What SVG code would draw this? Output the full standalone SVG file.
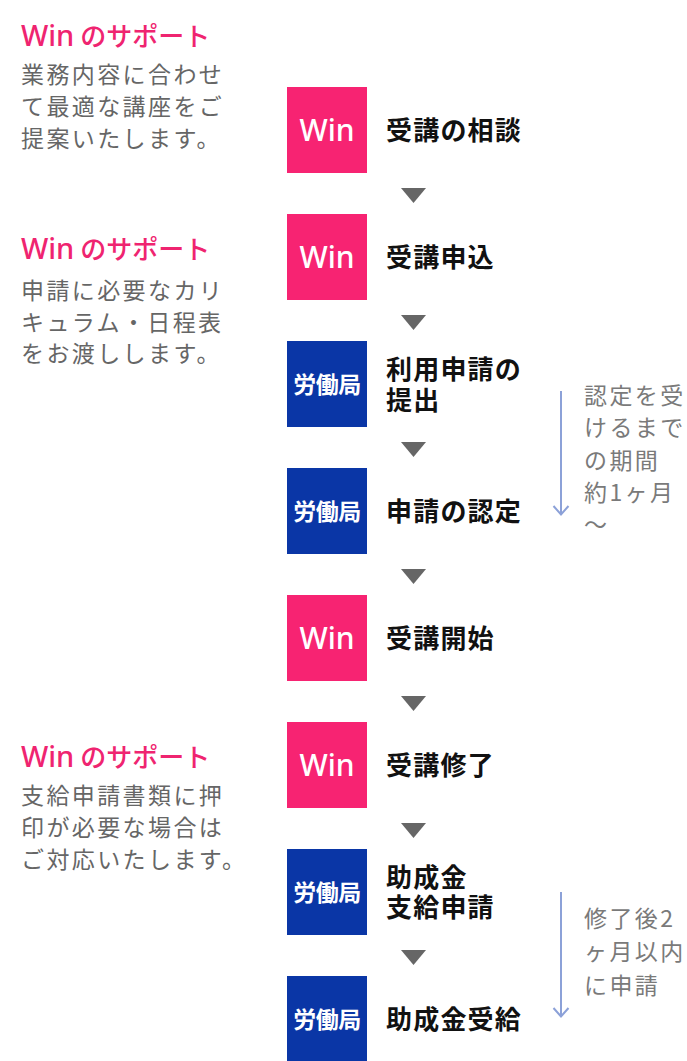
<svg xmlns="http://www.w3.org/2000/svg" width="687" height="1061" viewBox="0 0 687 1061">
<style>
.win{fill:#f72372}
.rou{fill:#0a36a6}
.wt{font-family:"Noto Sans","Noto Sans CJK JP",sans-serif;font-size:30px;font-weight:500;fill:#fff;text-anchor:middle}
.rt{font-family:"Noto Sans CJK JP",sans-serif;font-size:23px;font-weight:bold;fill:#fff;text-anchor:middle;letter-spacing:-0.5px}
.lbl{font-family:"Noto Sans CJK JP",sans-serif;font-size:26px;font-weight:bold;fill:#111;letter-spacing:1.2px}
.hd{font-family:"Noto Sans CJK JP",sans-serif;font-size:26px;font-weight:500;fill:#ef2470}
.hdw{font-family:"Noto Sans",sans-serif;font-size:29px;font-weight:500}
.body{font-family:"Noto Sans CJK JP",sans-serif;font-size:23px;fill:#666;letter-spacing:2.4px}
.note{font-family:"Noto Sans CJK JP",sans-serif;font-size:23px;fill:#7a7a7a;letter-spacing:2.4px}
.tri{fill:#666}
.arr{fill:none;stroke:#8ca1d8;stroke-width:2}
</style>
<rect width="687" height="1061" fill="#fff"/>

<g id="support1">
<text class="hd" x="21" y="46"><tspan class="hdw">Win</tspan> のサポート</text>
<text class="body" x="21" y="82.5">業務内容に合わせ</text>
<text class="body" x="21" y="114.7">て最適な講座をご</text>
<text class="body" x="21" y="147">提案いたします。</text>
</g>
<g id="support2">
<text class="hd" x="21" y="259"><tspan class="hdw">Win</tspan> のサポート</text>
<text class="body" x="21" y="298.7">申請に必要なカリ</text>
<text class="body" x="21" y="330.7">キュラム・日程表</text>
<text class="body" x="21" y="361.7">をお渡しします。</text>
</g>
<g id="support3">
<text class="hd" x="21" y="766.5"><tspan class="hdw">Win</tspan> のサポート</text>
<text class="body" x="21" y="803.7">支給申請書類に押</text>
<text class="body" x="21" y="835.7">印が必要な場合は</text>
<text class="body" x="21" y="867.7">ご対応いたします。</text>
</g>

<g id="step1">
<rect class="win" x="287" y="87" width="80" height="86"/>
<text class="wt" x="327" y="141">Win</text>
<text class="lbl" x="386" y="140">受講の相談</text>
</g>
<g id="step2">
<rect class="win" x="287" y="214" width="80" height="86"/>
<text class="wt" x="327" y="268">Win</text>
<text class="lbl" x="386" y="267">受講申込</text>
</g>
<g id="step3">
<rect class="rou" x="287" y="341" width="80" height="86"/>
<text class="rt" x="327" y="392.7">労働局</text>
<text class="lbl" x="386" y="379">利用申請の<tspan x="386" dy="31">提出</tspan></text>
</g>
<g id="step4">
<rect class="rou" x="287" y="468" width="80" height="86"/>
<text class="rt" x="327" y="519.7">労働局</text>
<text class="lbl" x="386" y="521">申請の認定</text>
</g>
<g id="step5">
<rect class="win" x="287" y="595" width="80" height="86"/>
<text class="wt" x="327" y="649">Win</text>
<text class="lbl" x="386" y="648">受講開始</text>
</g>
<g id="step6">
<rect class="win" x="287" y="722" width="80" height="86"/>
<text class="wt" x="327" y="776">Win</text>
<text class="lbl" x="386" y="775">受講修了</text>
</g>
<g id="step7">
<rect class="rou" x="287" y="849" width="80" height="86"/>
<text class="rt" x="327" y="900.7">労働局</text>
<text class="lbl" x="386" y="887">助成金<tspan x="386" dy="30">支給申請</tspan></text>
</g>
<g id="step8">
<rect class="rou" x="287" y="976" width="80" height="86"/>
<text class="rt" x="327" y="1027.7">労働局</text>
<text class="lbl" x="386" y="1029">助成金受給</text>
</g>

<g id="note1">
<text class="note" x="584" y="403.7">認定を受</text>
<text class="note" x="584" y="436.2">けるまで</text>
<text class="note" x="584" y="468.7">の期間</text>
<text class="note" x="584" y="500.7">約1ヶ月</text>
<text class="note" x="584" y="532.7">〜</text>
</g>
<g id="note2">
<text class="note" x="584" y="926.7">修了後2</text>
<text class="note" x="584" y="960.2">ヶ月以内</text>
<text class="note" x="584" y="993.7">に申請</text>
</g>

<g id="connectors">
<polygon class="tri" points="401,188 426,188 413.5,203"/>
<polygon class="tri" points="401,315 426,315 413.5,330"/>
<polygon class="tri" points="401,442 426,442 413.5,457"/>
<polygon class="tri" points="401,569 426,569 413.5,584"/>
<polygon class="tri" points="401,696 426,696 413.5,711"/>
<polygon class="tri" points="401,823 426,823 413.5,838"/>
<polygon class="tri" points="401,950 426,950 413.5,965"/>
<line class="arr" x1="561" y1="391" x2="561" y2="514"/>
<polyline class="arr" points="553.5,506 561,514.5 568.5,506"/>
<line class="arr" x1="561" y1="892" x2="561" y2="1016"/>
<polyline class="arr" points="553.5,1008 561,1016.5 568.5,1008"/>
</g>
</svg>
